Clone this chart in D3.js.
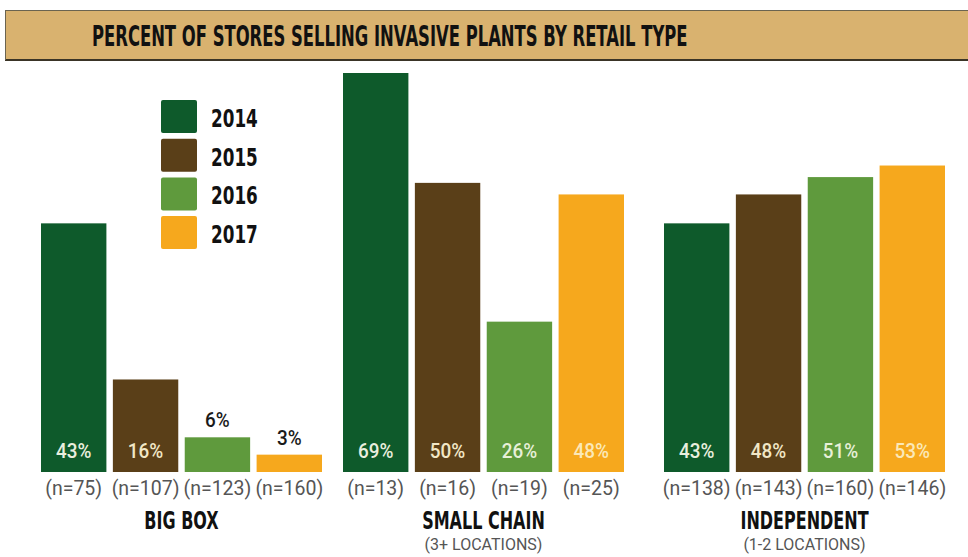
<!DOCTYPE html>
<html>
<head>
<meta charset="utf-8">
<script src="https://cdn.jsdelivr.net/npm/d3@7"></script>
<style>
  body { margin: 0; background: #fff; }
  svg { display: block; }
</style>
</head>
<body>
<div class="chart"></div>
<script>
const W = 968, H = 557;

// data
const categories = ["BIG BOX", "SMALL CHAIN", "INDEPENDENT"];
const subtitles = ["", "(3+ LOCATIONS)", "(1-2 LOCATIONS)"];
const years = ["2014", "2015", "2016", "2017"];
const bigBox = [43, 16, 6, 3];
const smallChain = [69, 50, 26, 48];
const independent = [43, 48, 51, 53];
const bigBoxN = [75, 107, 123, 160];
const smallChainN = [13, 16, 19, 25];
const independentN = [138, 143, 160, 146];

const values = [bigBox, smallChain, independent];
const counts = [bigBoxN, smallChainN, independentN];
const colors = ["#0e5a2b", "#5a3f18", "#5f9a3d", "#f6a81d"];
const labelColors = ["#e9eede", "#f1e7c6", "#e7f0d8", "#fbe8b8"];

const condensed = "'DejaVu Sans', 'Roboto', sans-serif";

// squeeze bold text horizontally to mimic the condensed poster font
function squeeze(sel, factor) {
  sel.each(function() {
    const w = this.getComputedTextLength();
    d3.select(this)
      .attr("textLength", w * factor)
      .attr("lengthAdjust", "spacingAndGlyphs");
  });
}

const svg = d3.select(".chart").append("svg")
    .attr("width", W)
    .attr("height", H);

// title band
svg.append("rect")
    .attr("x", 5).attr("y", 10)
    .attr("width", W - 5).attr("height", 50)
    .attr("fill", "#d9b26f");
svg.append("line").attr("x1", 5).attr("x2", W).attr("y1", 10.5).attr("y2", 10.5)
    .attr("stroke", "#6b6450").attr("stroke-width", 1);
svg.append("line").attr("x1", 5).attr("x2", W).attr("y1", 60).attr("y2", 60)
    .attr("stroke", "#3a3426").attr("stroke-width", 2);
svg.append("line").attr("x1", 5.5).attr("x2", 5.5).attr("y1", 10).attr("y2", 60)
    .attr("stroke", "#6b6450").attr("stroke-width", 1);

// title, scaled to fit 596px wide
const title = svg.append("text")
    .style("font-family", condensed)
    .style("font-weight", "bold")
    .style("font-size", "28px")
    .style("fill", "#111")
    .text("PERCENT OF STORES SELLING INVASIVE PLANTS BY RETAIL TYPE");
const tw = title.node().getComputedTextLength();
title.attr("transform", "translate(92,46) scale(" + (596 / tw) + ",1)");

// scales
const baseline = 472;
const y = d3.scaleLinear().domain([0, 69]).range([baseline, 73]);
const groupX = d3.scaleOrdinal().domain(categories).range([41, 343, 664]);
const x = d3.scaleBand().domain(years).range([0, 281]).paddingInner(0.09);

const groups = svg.selectAll("g.group")
    .data(categories)
    .enter().append("g")
    .attr("class", "group")
    .attr("transform", d => "translate(" + groupX(d) + ",0)");

groups.each(function(cat, ci) {
  const g = d3.select(this);
  const rows = years.map((yr, i) => ({ yr: yr, v: values[ci][i], n: counts[ci][i], i: i }));

  g.selectAll("rect.bar")
      .data(rows)
      .enter().append("rect")
      .attr("class", "bar")
      .attr("x", d => x(d.yr))
      .attr("y", d => y(d.v))
      .attr("width", x.bandwidth())
      .attr("height", d => baseline - y(d.v))
      .attr("fill", d => colors[d.i]);

  // value labels
  g.selectAll("text.val")
      .data(rows)
      .enter().append("text")
      .attr("class", "val")
      .attr("x", d => x(d.yr) + x.bandwidth() / 2)
      .attr("y", d => d.v < 10 ? y(d.v) - 10 : baseline - 14)
      .attr("text-anchor", "middle")
      .style("font-family", "'Roboto', sans-serif")
      .style("font-weight", "500")
      .style("font-size", "21px")
      .style("fill", d => d.v < 10 ? "#1a1a1a" : labelColors[d.i])
      .text(d => d.v + "%")
      .call(squeeze, 0.9);

  // n labels
  g.selectAll("text.n")
      .data(rows)
      .enter().append("text")
      .attr("class", "n")
      .attr("x", d => x(d.yr) + x.bandwidth() / 2)
      .attr("y", 495)
      .attr("text-anchor", "middle")
      .style("font-family", "'Roboto', sans-serif")
      .style("font-size", "19.5px")
      .style("fill", "#555")
      .text(d => "(n=" + d.n + ")");

  // category label
  g.append("text")
      .attr("x", 281 / 2)
      .attr("y", 529)
      .attr("text-anchor", "middle")
      .style("font-family", condensed)
      .style("font-weight", "bold")
      .style("font-size", "25px")
      .style("fill", "#111")
      .text(cat)
      .call(squeeze, 0.64);

  if (subtitles[ci]) {
    g.append("text")
        .attr("x", 281 / 2)
        .attr("y", 550)
        .attr("text-anchor", "middle")
        .style("font-family", "'Roboto', sans-serif")
        .style("font-size", "16px")
        .style("fill", "#555")
        .text(subtitles[ci]);
  }
});

// legend
const legend = svg.append("g").attr("transform", "translate(161,100)");
const leg = legend.selectAll("g")
    .data(years)
    .enter().append("g")
    .attr("transform", (d, i) => "translate(0," + i * 38.7 + ")");
leg.append("rect")
    .attr("width", 36).attr("height", 33)
    .attr("rx", 2)
    .attr("fill", (d, i) => colors[i]);
leg.append("text")
    .attr("x", 50).attr("y", 27)
    .style("font-family", condensed)
    .style("font-weight", "bold")
    .style("font-size", "24px")
    .style("fill", "#111")
    .text(d => d)
    .call(squeeze, 0.7);
</script>
</body>
</html>
